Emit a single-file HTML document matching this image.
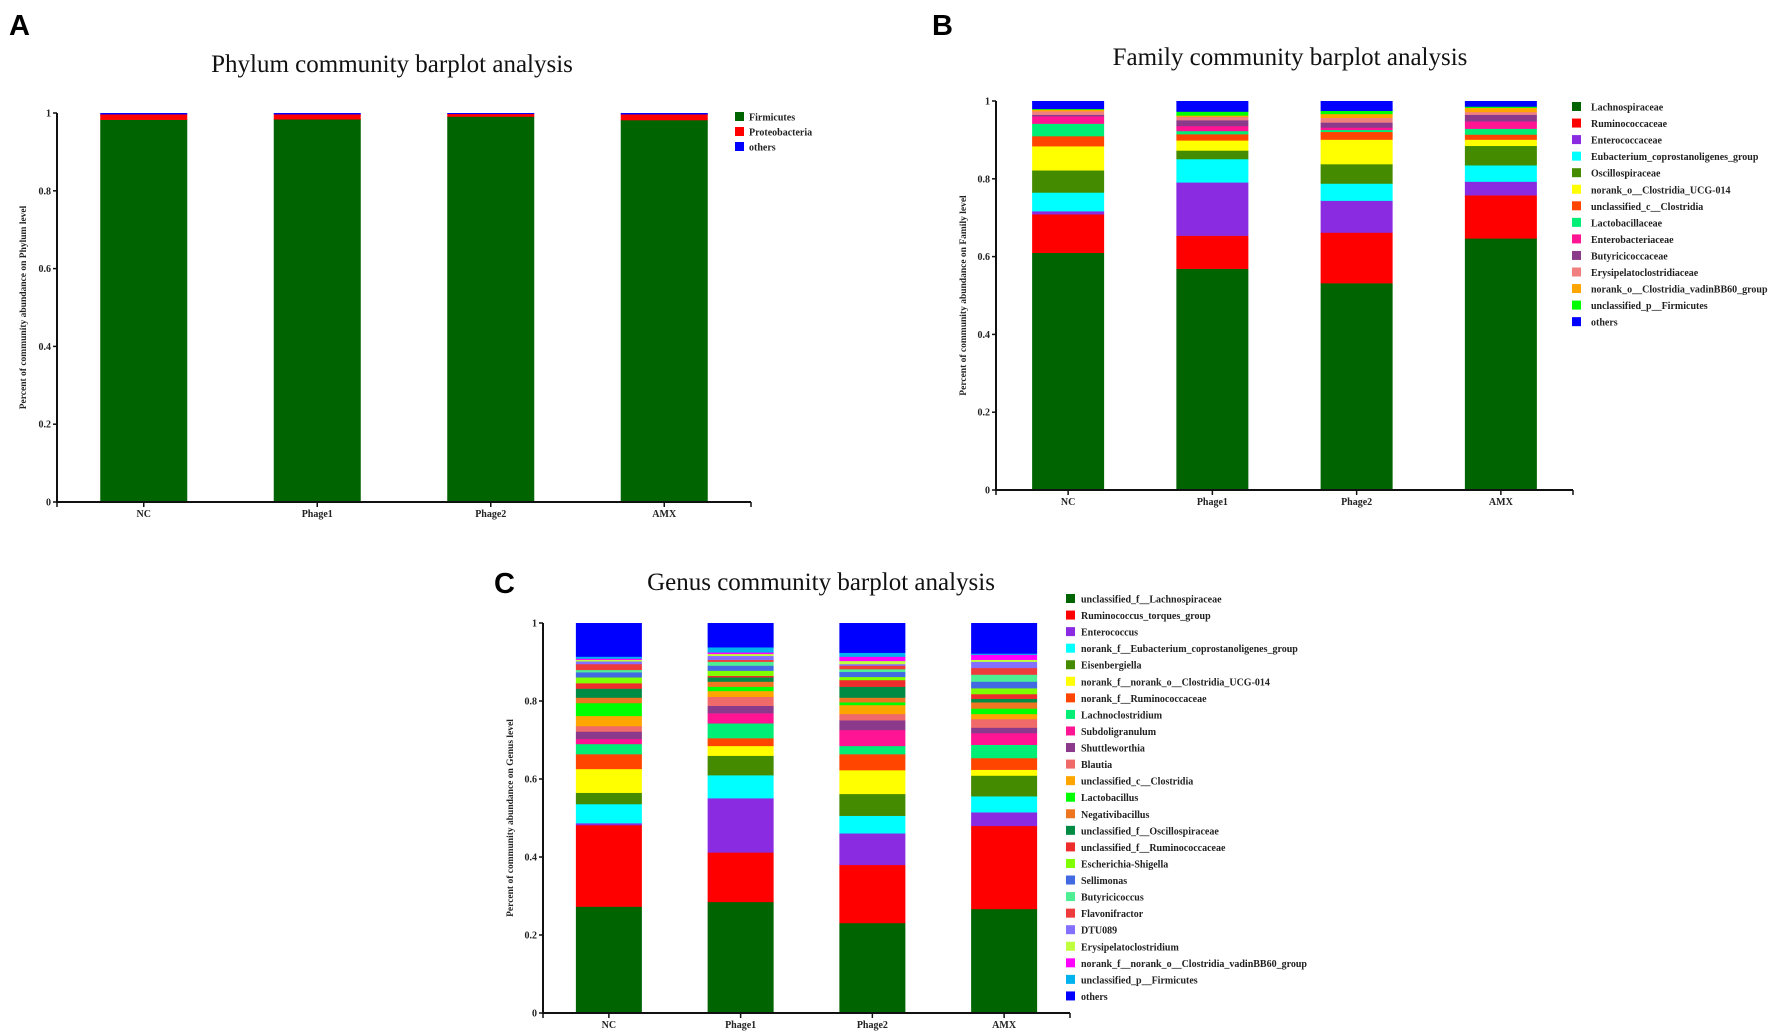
<!DOCTYPE html>
<html><head><meta charset="utf-8"><style>
html,body{margin:0;padding:0;background:#fff;}
svg{display:block;}
.ttl{font-family:"Liberation Serif",serif;font-size:25px;fill:#111;}
.tick{font-family:"Liberation Serif",serif;font-size:10px;font-weight:bold;fill:#222;}
.leg{font-family:"Liberation Serif",serif;font-size:10px;font-weight:bold;fill:#222;}
.ytl{font-family:"Liberation Serif",serif;font-size:9.5px;font-weight:bold;fill:#222;}
.pl{font-family:"Liberation Sans",sans-serif;font-size:29px;font-weight:bold;fill:#000;}
</style></head><body>
<svg id="fig" width="1772" height="1034" viewBox="0 0 1772 1034" xmlns="http://www.w3.org/2000/svg"></svg>
<script>
const categories = ["NC","Phage1","Phage2","AMX"];
const yTicks = [0,0.2,0.4,0.6,0.8,1];
const yTickLabels = ["0","0.2","0.4","0.6","0.8","1"];

const phylumTaxa = ["Firmicutes","Proteobacteria","others"];
const phylumColors = ["#006400","#ff0000","#0000ff"];
const phylumNC = [0.983,0.014,0.003];
const phylumPhage1 = [0.984,0.013,0.003];
const phylumPhage2 = [0.991,0.007,0.002];
const phylumAMX = [0.982,0.015,0.003];

const familyTaxa = ["Lachnospiraceae","Ruminococcaceae","Enterococcaceae","Eubacterium_coprostanoligenes_group","Oscillospiraceae","norank_o__Clostridia_UCG-014","unclassified_c__Clostridia","Lactobacillaceae","Enterobacteriaceae","Butyricicoccaceae","Erysipelatoclostridiaceae","norank_o__Clostridia_vadinBB60_group","unclassified_p__Firmicutes","others"];
const familyColors = ["#006400","#ff0000","#8a2be2","#00ffff","#458b00","#ffff00","#ff4500","#00ee76","#ff1493","#8b3a8b","#f08080","#ffa500","#00ff00","#0000ff"];
const familyNC = [0.61,0.099,0.008,0.048,0.057,0.062,0.026,0.032,0.019,0.004,0.009,0.004,0.002,0.020];
const familyPhage1 = [0.569,0.085,0.137,0.060,0.022,0.026,0.016,0.008,0.013,0.015,0.009,0.003,0.010,0.027];
const familyPhage2 = [0.532,0.130,0.082,0.044,0.050,0.063,0.020,0.005,0.006,0.013,0.012,0.010,0.008,0.025];
const familyAMX = [0.647,0.111,0.035,0.042,0.050,0.016,0.013,0.015,0.019,0.017,0.007,0.011,0.003,0.014];

const genusTaxa = ["unclassified_f__Lachnospiraceae","Ruminococcus_torques_group","Enterococcus","norank_f__Eubacterium_coprostanoligenes_group","Eisenbergiella","norank_f__norank_o__Clostridia_UCG-014","norank_f__Ruminococcaceae","Lachnoclostridium","Subdoligranulum","Shuttleworthia","Blautia","unclassified_c__Clostridia","Lactobacillus","Negativibacillus","unclassified_f__Oscillospiraceae","unclassified_f__Ruminococcaceae","Escherichia-Shigella","Sellimonas","Butyricicoccus","Flavonifractor","DTU089","Erysipelatoclostridium","norank_f__norank_o__Clostridia_vadinBB60_group","unclassified_p__Firmicutes","others"];
const genusColors = ["#006400","#ff0000","#8a2be2","#00ffff","#458b00","#ffff00","#ff4500","#00ee76","#ff1493","#8b3a8b","#f06a6a","#ffa500","#00ff00","#ee7621","#008b45","#ee2c2c","#7fff00","#4169e1","#4eee94","#ee3b3b","#8470ff","#c0ff3e","#ff00ff","#00b2ee","#0000ff"];
const genusNC = [0.273,0.209,0.005,0.049,0.029,0.061,0.038,0.026,0.013,0.019,0.014,0.026,0.033,0.014,0.023,0.014,0.015,0.013,0.006,0.015,0.007,0.004,0.003,0.005,0.086];
const genusPhage1 = [0.285,0.127,0.139,0.059,0.050,0.025,0.020,0.038,0.026,0.019,0.023,0.015,0.011,0.013,0.011,0.004,0.013,0.013,0.010,0.005,0.010,0.005,0.004,0.013,0.062];
const genusPhage2 = [0.231,0.149,0.081,0.045,0.056,0.061,0.041,0.021,0.041,0.025,0.016,0.023,0.007,0.012,0.028,0.017,0.008,0.013,0.007,0.009,0.004,0.008,0.011,0.010,0.076];
const genusAMX = [0.267,0.213,0.035,0.041,0.053,0.015,0.030,0.034,0.030,0.014,0.022,0.013,0.014,0.016,0.009,0.012,0.015,0.017,0.018,0.017,0.016,0.005,0.013,0.003,0.078];

const NS = "http://www.w3.org/2000/svg";
const fig = document.getElementById('fig');
function mk(tag, attrs, parent, text){
  const e = document.createElementNS(NS, tag);
  for (const k in attrs) e.setAttribute(k, attrs[k]);
  if (text !== undefined) e.textContent = text;
  (parent || fig).appendChild(e);
  return e;
}

function panel(cfg){
  const g = mk('g', {});
  
  
  const yScale = v => cfg.y0 + (cfg.y1 - cfg.y0) * v;
  const step = (cfg.xEnd - cfg.axisX) / categories.length;
  const xCenter = i => cfg.axisX + step * (i + 0.5);

  const lab = mk('text', {x: cfg.labX, y: cfg.labY, class: 'pl'}, g, cfg.letter);
  
  
  const t = mk('text', {x: cfg.titleX, y: cfg.titleY, class: 'ttl', 'text-anchor': 'middle'}, g, cfg.title);
  
  

  cfg.series.forEach((vals, i) => {
    let acc = 0;
    const cx = xCenter(i);
    vals.forEach((v, j) => {
      const top = yScale(Math.min(1, acc + v)), bot = yScale(acc);
      const r = mk('rect', {x: cx - cfg.barW/2, y: top, width: cfg.barW, height: Math.max(0, bot - top + 0.3), fill: cfg.colors[j]}, g);
      
      
      acc += v;
    });
  });

  const ya = mk('line', {x1: cfg.axisX, y1: yScale(0) + 1, x2: cfg.axisX, y2: yScale(1), stroke: '#111', 'stroke-width': 2}, g);
  
  
  const xa = mk('line', {x1: cfg.axisX - 1, y1: yScale(0), x2: cfg.xEnd, y2: yScale(0), stroke: '#111', 'stroke-width': 2}, g);
  
  
  mk('line', {x1: cfg.xEnd, y1: yScale(0), x2: cfg.xEnd, y2: yScale(0) + 5, stroke: '#111', 'stroke-width': 1.5}, g);
  mk('line', {x1: cfg.axisX, y1: yScale(0), x2: cfg.axisX, y2: yScale(0) + 5, stroke: '#111', 'stroke-width': 1.5}, g);

  yTicks.forEach((v, k) => {
    mk('line', {x1: cfg.axisX - 4, y1: yScale(v), x2: cfg.axisX, y2: yScale(v), stroke: '#111', 'stroke-width': 1.5}, g);
    const tl = mk('text', {x: cfg.axisX - 6, y: yScale(v) + 3.5, class: 'tick', 'text-anchor': 'end'}, g, yTickLabels[k]);
    
    
  });
  categories.forEach((c, i) => {
    mk('line', {x1: xCenter(i), y1: yScale(0), x2: xCenter(i), y2: yScale(0) + 5, stroke: '#111', 'stroke-width': 1.5}, g);
    const tl = mk('text', {x: xCenter(i), y: yScale(0) + 15, class: 'tick', 'text-anchor': 'middle'}, g, c);
    
    
  });
  const mid = (yScale(0) + yScale(1)) / 2;
  const yt = mk('text', {x: cfg.yTitleX, y: mid, class: 'ytl', 'text-anchor': 'middle', transform: `rotate(-90 ${cfg.yTitleX} ${mid})`}, g, cfg.yTitle);
  
  

  cfg.taxa.forEach((name, j) => {
    const ly = cfg.legY + j * cfg.legStep;
    const sq = mk('rect', {x: cfg.legX, y: ly - 5, width: 9, height: 9, fill: cfg.colors[j]}, g);
    
    
    const lt = mk('text', {x: cfg.legX + cfg.legGap, y: ly + 3.5, class: 'leg'}, g, name);
    
    
  });
}

panel({name:'phylum-chart', letter:'A', labX:9, labY:35, title:'Phylum community barplot analysis', titleX:392, titleY:72,
  axisX:57, xEnd:751, y0:502, y1:113, barW:87,
  series:[phylumNC, phylumPhage1, phylumPhage2, phylumAMX], colors:phylumColors, taxa:phylumTaxa,
  legX:735, legY:117, legStep:15, legGap:14, yTitleX:26, yTitle:'Percent of community abundance on Phylum level'});

panel({name:'family-chart', letter:'B', labX:932, labY:35, title:'Family community barplot analysis', titleX:1290, titleY:65,
  axisX:996, xEnd:1573, y0:490, y1:101, barW:72,
  series:[familyNC, familyPhage1, familyPhage2, familyAMX], colors:familyColors, taxa:familyTaxa,
  legX:1572, legY:107, legStep:16.55, legGap:19, yTitleX:966, yTitle:'Percent of community abundance on Family level'});

panel({name:'genus-chart', letter:'C', labX:494, labY:593, title:'Genus community barplot analysis', titleX:821, titleY:590,
  axisX:543, xEnd:1070, y0:1013, y1:623, barW:66,
  series:[genusNC, genusPhage1, genusPhage2, genusAMX], colors:genusColors, taxa:genusTaxa,
  legX:1066, legY:599, legStep:16.56, legGap:15, yTitleX:513, yTitle:'Percent of community abundance on Genus level'});
</script>
</body></html>
